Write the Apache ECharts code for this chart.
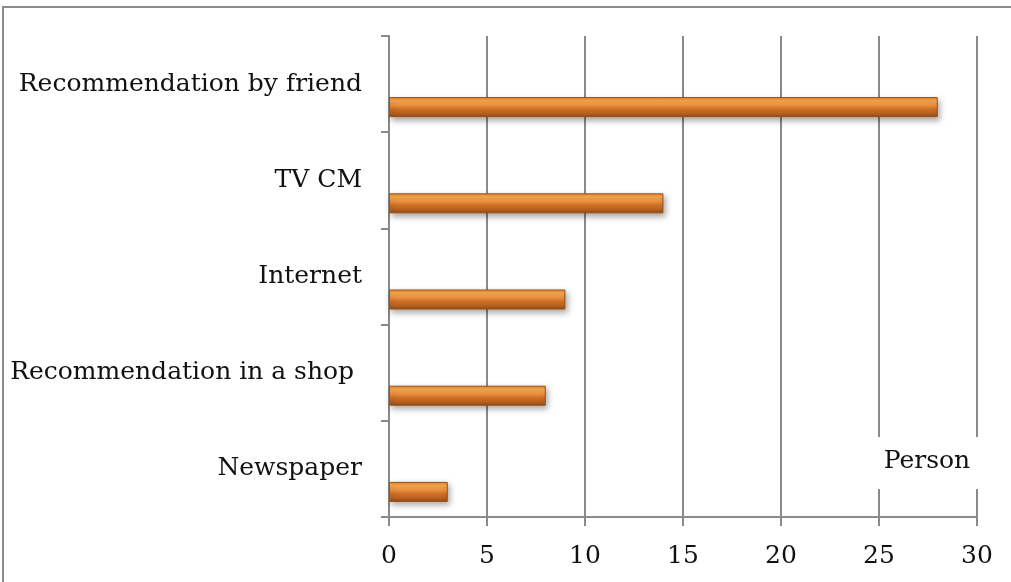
<!DOCTYPE html>
<html>
<head>
<meta charset="utf-8">
<script src="https://cdn.jsdelivr.net/npm/echarts@6/dist/echarts.min.js"></script>
<style>
  html, body { margin: 0; padding: 0; background: #fff; }
  #chart { width: 1011px; height: 582px; }
</style>
</head>
<body>
<div id="chart"></div>
<script>
// Sources people cited, listed top to bottom
const categories = [
  'Recommendation by friend',
  'TV CM',
  'Internet',
  'Recommendation in a shop ',
  'Newspaper'
];
const persons = [28, 14, 9, 8, 3];
const xTicks = [0, 5, 10, 15, 20, 25, 30];
const unitLabel = 'Person';

const FONT = 'DejaVu Serif';
const FONT_SIZE = 25;
const GRID_GRAY = '#8a8a8a';

const chart = echarts.init(document.getElementById('chart'), null, { renderer: 'canvas' });

const barGradient = new echarts.graphic.LinearGradient(0, 0, 0, 1, [
  { offset: 0.00, color: '#e8842c' },
  { offset: 0.18, color: '#f7a94f' },
  { offset: 0.40, color: '#ee9340' },
  { offset: 0.60, color: '#cf6f28' },
  { offset: 0.85, color: '#b45e1e' },
  { offset: 1.00, color: '#8a4716' }
]);

chart.setOption({
  animation: false,
  backgroundColor: '#fff',
  grid: { left: 389, right: 34, top: 36, bottom: 65, containLabel: false },
  xAxis: {
    type: 'value',
    min: xTicks[0],
    max: xTicks[xTicks.length - 1],
    interval: 5,
    axisLine: { show: true, lineStyle: { color: GRID_GRAY, width: 2 } },
    axisTick: { show: true, length: 9, lineStyle: { color: GRID_GRAY, width: 2 } },
    splitLine: { show: true, lineStyle: { color: GRID_GRAY, width: 2 } },
    axisLabel: { color: '#111', fontFamily: FONT, fontSize: FONT_SIZE, margin: 27 }
  },
  yAxis: {
    type: 'category',
    inverse: true,
    data: categories,
    axisLine: { show: true, lineStyle: { color: GRID_GRAY, width: 2 } },
    axisTick: { show: true, length: 8, lineStyle: { color: GRID_GRAY, width: 2 } },
    axisLabel: { color: '#111', fontFamily: FONT, fontSize: FONT_SIZE, margin: 27 }
  },
  series: [
    {
      // empty companion series: reserves the upper slot so the bars sit low in each band
      type: 'bar',
      data: categories.map(() => '-'),
      barWidth: 20,
      barGap: '130%',
      silent: true,
      itemStyle: { color: 'transparent' }
    },
    {
      name: unitLabel,
      type: 'bar',
      data: persons,
      barWidth: 20,
      barGap: '130%',
      z: 3,
      itemStyle: {
        color: barGradient,
        borderColor: '#9a5019',
        borderWidth: 1,
        shadowColor: 'rgba(0,0,0,0.35)',
        shadowBlur: 6,
        shadowOffsetX: 2,
        shadowOffsetY: 3
      }
    }
  ],
  graphic: [
    {
      type: 'rect',
      z: 0,
      shape: { x: 3, y: 7, width: 1100, height: 700 },
      style: { fill: 'none', stroke: '#8c8c8c', lineWidth: 2 }
    },
    {
      type: 'rect',
      z: 10,
      shape: { x: 872, y: 437, width: 116, height: 52 },
      style: { fill: '#fff' }
    },
    {
      type: 'text',
      z: 11,
      x: 927,
      y: 461,
      style: {
        text: unitLabel,
        fontFamily: FONT,
        fontSize: FONT_SIZE,
        fill: '#111',
        align: 'center',
        verticalAlign: 'middle'
      }
    }
  ]
});
</script>
</body>
</html>
